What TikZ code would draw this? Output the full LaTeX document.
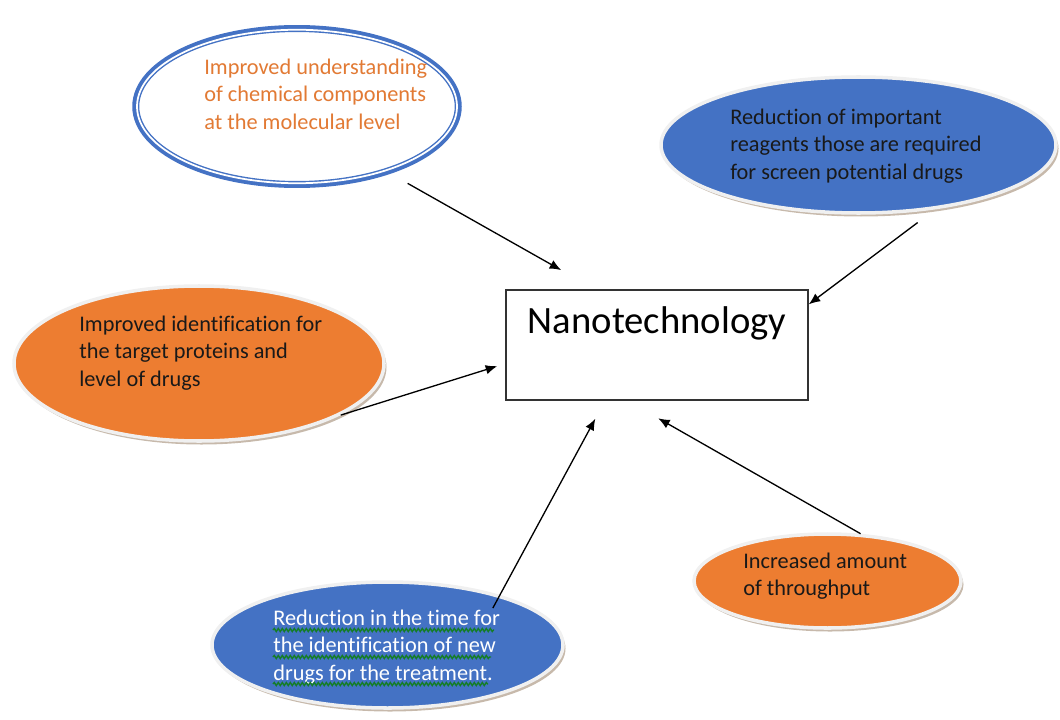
\documentclass[tikz,border=0pt]{standalone}
\usepackage{fontspec}
\setmainfont{Carlito}[Ligatures=NoCommon]
\usetikzlibrary{arrows.meta,shapes.geometric,shadows,decorations.pathmorphing}
\definecolor{boxblue}{RGB}{68,114,196}
\definecolor{boxorange}{RGB}{237,125,49}
\definecolor{textorange}{RGB}{226,122,52}
\definecolor{spellgreen}{RGB}{20,125,40}

\begin{document}
\begin{tikzpicture}

\tikzset{bubble/.style = {shape=ellipse,draw=white!88!gray,line width=2pt,drop shadow={shadow xshift=0.05cm,shadow yshift=-0.07cm,fill=gray!60!brown,opacity=0.55}}}
\tikzset{bluebubble/.style = {bubble,fill=boxblue}}
\tikzset{orangebubble/.style = {bubble,fill=boxorange}}
\tikzset{caption/.style = {anchor=west,align=left,inner sep=0pt,text=black!90,font=\fontsize{12.7}{15.6}\selectfont}}
\tikzset{edge/.style = {-{Latex[length=0.23cm,width=0.19cm]},line width=0.75pt}}
\tikzset{spell/.style = {spellgreen,line width=0.8pt,decorate,decoration={snake,amplitude=0.03cm,segment length=0.08cm}}}

\useasboundingbox (0,0) rectangle (21.2,-14.38);

% bubbles
\node[shape=ellipse,preaction={draw=boxblue,line width=5.4pt},draw=boxblue,fill=white,double=white,double distance=1pt,line width=0.8pt,minimum width=6.4cm,minimum height=3.07cm] (under) at (5.94,-2.13) {};
\node[bluebubble,minimum width=7.9cm,minimum height=2.72cm] (reagents) at (17.17,-2.9) {};
\node[orangebubble,minimum width=7.4cm,minimum height=3.1cm] (target) at (3.98,-7.27) {};
\node[bluebubble,minimum width=7.02cm,minimum height=2.52cm] (time) at (7.75,-12.9) {};
\node[orangebubble,minimum width=5.34cm,minimum height=1.88cm] (throughput) at (16.55,-11.62) {};

% texts
\node[caption,text=textorange] (under-txt) at (4.08,-1.88) {Improved understanding\\of chemical components\\at the molecular level};
\node[caption] (reagents-txt) at (14.6,-2.92) {Reduction of important\\reagents those are required\\for screen potential drugs};
\node[caption] (target-txt) at (1.58,-7.06) {Improved identification for\\the target proteins and\\level of drugs};
\node[caption,text=white] (time-txt) at (5.46,-12.94) {Reduction in the time for\\the identification of new\\drugs for the treatment.};
\node[caption] (throughput-txt) at (14.86,-11.52) {Increased amount\\of throughput};

\foreach \y/\x in {12.6/9.88, 13.14/9.82, 13.68/9.76}
  \draw[spell] (5.46,-\y) -- (\x,-\y);

% center
\node[draw=black!80,line width=0.8pt,minimum width=6.04cm,minimum height=2.2cm,text height=0.6cm,text depth=1.08cm,font=\fontsize{22}{26}\selectfont] (nano) at (13.14,-6.9) {Nanotechnology};

%edges
\draw[edge,shorten <=0.5cm,shorten >=0.78cm] (under.-36) to (nano.138);
\draw[edge,shorten <=0.44cm] (reagents.-40) to (nano.15);
\draw[edge,shorten >=0.17cm] (target.-20) to (nano.-173);
\draw[edge,shorten <=-0.3cm,shorten >=0.41cm] (time.24) to (nano.-133);
\draw[edge,shorten >=0.71cm] (throughput.55) to (nano.-118);
\end{tikzpicture}
\end{document}
